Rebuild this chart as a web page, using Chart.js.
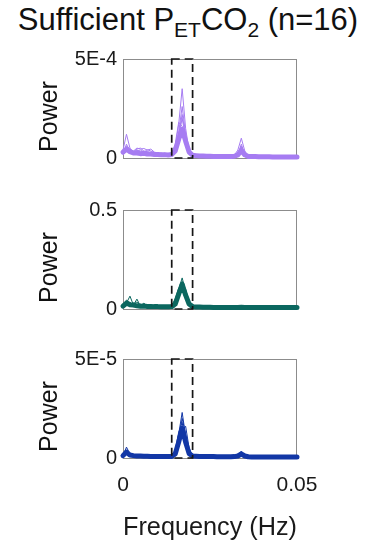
<!DOCTYPE html>
<html>
<head>
<meta charset="utf-8">
<script src="https://cdn.jsdelivr.net/npm/chart.js@4.4.1/dist/chart.umd.min.js"></script>
<style>
  html, body { margin: 0; padding: 0; background: #fff; }
  body { width: 365px; height: 546px; position: relative; overflow: hidden;
         font-family: "Liberation Sans", Arial, sans-serif; }
  #title { position: absolute; left: 0; top: 2px; width: 376px; text-align: center;
           font-size: 31px; color: #111; white-space: nowrap; }
  #title sub { font-size: 21px; vertical-align: -7px; line-height: 0; }
  canvas { position: absolute; left: 0; }
</style>
</head>
<body>
<div id="title">Sufficient P<sub>ET</sub>CO<sub>2</sub> (n=16)</div>
<canvas id="c1" width="365" height="120" style="top:50px"></canvas>
<canvas id="c2" width="365" height="120" style="top:201px"></canvas>
<canvas id="c3" width="365" height="196" style="top:350px"></canvas>
<script>
// Frequency grid (Hz)
const freq = [
  0.000,0.001,0.002,0.003,0.004,0.005,0.006,0.007,0.008,0.009,
  0.010,0.011,0.012,0.013,0.014,0.015,0.016,0.017,0.018,0.019,
  0.020,0.021,0.022,0.023,0.024,0.025,0.026,0.027,0.028,0.029,
  0.030,0.031,0.032,0.033,0.034,0.035,0.036,0.037,0.038,0.039,
  0.040,0.041,0.042,0.043,0.044,0.045,0.046,0.047,0.048,0.049,
  0.050];

// Frequency band of interest (dashed box)
const band = [0.014, 0.020];

const xTicks = [0, 0.05];
const xTickLabels = ['0', '0.05'];

// Panel 1 spectra, in units of 1E-4
const p1Unit = 1e-4;
const p1Max = 5;
const p1TickLabels = ['0', '5E-4'];
const p1Mean = [
  0.30,0.45,0.32,0.25,0.25,0.22,0.24,0.20,0.20,0.18,
  0.18,0.16,0.17,0.15,0.18,0.35,0.95,1.45,0.85,0.30,
  0.14,0.12,0.10,0.10,0.09,0.09,0.08,0.08,0.08,0.08,
  0.08,0.08,0.09,0.16,0.38,0.16,0.08,0.07,0.07,0.06,
  0.06,0.06,0.06,0.05,0.05,0.05,0.05,0.05,0.05,0.05,
  0.05];
const p1S1 = [
  0.20,0.70,0.35,0.25,0.40,0.30,0.25,0.35,0.20,0.25,
  0.15,0.20,0.22,0.12,0.20,0.50,1.70,3.50,1.50,0.35,
  0.12,0.10,0.12,0.08,0.10,0.06,0.08,0.10,0.06,0.07,
  0.08,0.10,0.12,0.25,0.60,0.22,0.10,0.06,0.05,0.06,
  0.05,0.04,0.05,0.04,0.05,0.04,0.04,0.05,0.04,0.04,
  0.04];
const p1S2 = [
  0.40,1.20,0.50,0.30,0.45,0.50,0.35,0.30,0.25,0.20,
  0.22,0.18,0.15,0.20,0.15,0.40,1.30,2.60,1.20,0.30,
  0.10,0.12,0.08,0.10,0.08,0.07,0.10,0.06,0.08,0.05,
  0.06,0.08,0.10,0.20,0.45,0.18,0.07,0.06,0.06,0.05,
  0.05,0.05,0.04,0.05,0.04,0.04,0.05,0.04,0.04,0.04,
  0.04];
const p1S3 = [
  0.25,0.55,0.30,0.35,0.50,0.45,0.48,0.40,0.45,0.30,
  0.25,0.20,0.25,0.18,0.22,0.40,1.10,2.00,1.00,0.25,
  0.12,0.10,0.10,0.09,0.08,0.10,0.07,0.08,0.07,0.08,
  0.09,0.10,0.15,0.40,1.00,0.35,0.12,0.08,0.06,0.06,
  0.05,0.06,0.05,0.05,0.04,0.05,0.04,0.05,0.04,0.04,
  0.04];
const p1S4 = [
  0.15,0.40,0.25,0.20,0.25,0.20,0.30,0.22,0.25,0.20,
  0.15,0.18,0.12,0.15,0.25,0.70,1.80,1.60,0.60,0.20,
  0.10,0.08,0.10,0.07,0.08,0.06,0.07,0.06,0.07,0.06,
  0.07,0.06,0.08,0.18,0.70,0.20,0.08,0.06,0.05,0.05,
  0.05,0.04,0.04,0.04,0.04,0.04,0.04,0.04,0.04,0.04,
  0.04];
const p1S5 = [
  0.35,0.60,0.45,0.30,0.35,0.40,0.30,0.42,0.35,0.28,
  0.20,0.25,0.20,0.15,0.20,0.30,0.80,1.20,1.00,0.40,
  0.15,0.12,0.10,0.12,0.10,0.08,0.09,0.08,0.06,0.07,
  0.06,0.07,0.10,0.14,0.30,0.15,0.10,0.07,0.06,0.06,
  0.06,0.05,0.05,0.05,0.05,0.05,0.05,0.05,0.05,0.05,
  0.05];
const p1S6 = [
  0.25,0.50,0.30,0.30,0.30,0.25,0.28,0.25,0.22,0.18,
  0.20,0.15,0.18,0.16,0.18,0.45,1.20,2.20,1.10,0.30,
  0.12,0.10,0.09,0.10,0.08,0.08,0.07,0.08,0.06,0.07,
  0.07,0.08,0.09,0.20,0.55,0.20,0.08,0.06,0.05,0.05,
  0.05,0.05,0.04,0.04,0.04,0.04,0.04,0.04,0.04,0.04,
  0.04];

// Panel 2 spectra
const p2Unit = 1;
const p2Max = 0.5;
const p2TickLabels = ['0', '0.5'];
const p2Mean = [
  0.015,0.030,0.022,0.020,0.016,0.014,0.015,0.013,0.013,0.012,
  0.012,0.011,0.011,0.011,0.012,0.025,0.075,0.125,0.070,0.025,
  0.012,0.010,0.010,0.009,0.009,0.009,0.008,0.008,0.008,0.008,
  0.008,0.008,0.008,0.008,0.009,0.008,0.008,0.008,0.007,0.007,
  0.007,0.007,0.007,0.007,0.007,0.007,0.007,0.007,0.007,0.007,
  0.007];
const p2S1 = [
  0.010,0.030,0.065,0.020,0.050,0.015,0.030,0.012,0.014,0.020,
  0.010,0.012,0.010,0.012,0.015,0.040,0.100,0.157,0.090,0.030,
  0.012,0.010,0.010,0.009,0.008,0.009,0.008,0.008,0.008,0.007,
  0.008,0.008,0.007,0.008,0.010,0.008,0.007,0.007,0.007,0.007,
  0.006,0.006,0.006,0.006,0.006,0.006,0.006,0.006,0.006,0.006,
  0.006];
const p2S2 = [
  0.020,0.045,0.030,0.025,0.035,0.018,0.020,0.015,0.016,0.013,
  0.012,0.013,0.011,0.012,0.014,0.035,0.090,0.140,0.080,0.025,
  0.011,0.010,0.009,0.009,0.009,0.008,0.008,0.008,0.008,0.008,
  0.007,0.008,0.008,0.007,0.008,0.007,0.007,0.007,0.007,0.006,
  0.006,0.006,0.006,0.006,0.006,0.006,0.006,0.006,0.006,0.006,
  0.006];
const p2S3 = [
  0.015,0.025,0.020,0.030,0.020,0.025,0.015,0.018,0.012,0.014,
  0.011,0.010,0.012,0.011,0.018,0.050,0.105,0.120,0.060,0.020,
  0.011,0.010,0.009,0.009,0.008,0.008,0.008,0.008,0.008,0.007,
  0.007,0.007,0.007,0.007,0.008,0.007,0.007,0.007,0.006,0.006,
  0.006,0.006,0.006,0.006,0.006,0.006,0.006,0.006,0.006,0.006,
  0.006];
const p2S4 = [
  0.012,0.020,0.018,0.015,0.014,0.013,0.014,0.012,0.012,0.011,
  0.011,0.010,0.010,0.010,0.012,0.020,0.060,0.095,0.100,0.035,
  0.013,0.010,0.009,0.009,0.008,0.008,0.008,0.008,0.007,0.007,
  0.007,0.007,0.007,0.007,0.008,0.007,0.007,0.006,0.006,0.006,
  0.006,0.006,0.006,0.006,0.006,0.006,0.006,0.006,0.006,0.006,
  0.006];

// Panel 3 spectra, in units of 1E-5
const p3Unit = 1e-5;
const p3Max = 5;
const p3TickLabels = ['0', '5E-5'];
const p3Mean = [
  0.12,0.30,0.15,0.12,0.10,0.10,0.09,0.09,0.08,0.08,
  0.08,0.08,0.07,0.07,0.08,0.20,0.80,1.50,0.80,0.22,
  0.10,0.09,0.08,0.08,0.07,0.07,0.07,0.06,0.06,0.06,
  0.06,0.06,0.07,0.10,0.20,0.10,0.06,0.05,0.05,0.05,
  0.05,0.05,0.05,0.05,0.05,0.05,0.05,0.05,0.05,0.05,
  0.05];
const p3S1 = [
  0.10,0.55,0.20,0.10,0.12,0.10,0.08,0.10,0.07,0.08,
  0.07,0.09,0.06,0.07,0.10,0.30,1.20,2.30,1.10,0.30,
  0.12,0.10,0.08,0.09,0.07,0.08,0.06,0.07,0.06,0.06,
  0.05,0.06,0.08,0.15,0.35,0.12,0.06,0.05,0.05,0.05,
  0.04,0.04,0.04,0.04,0.04,0.04,0.04,0.04,0.04,0.04,
  0.04];
const p3S2 = [
  0.15,0.40,0.18,0.12,0.10,0.09,0.10,0.08,0.09,0.07,
  0.08,0.07,0.07,0.06,0.08,0.25,1.00,2.00,1.20,0.25,
  0.10,0.09,0.08,0.07,0.08,0.06,0.07,0.06,0.06,0.05,
  0.06,0.05,0.07,0.12,0.28,0.10,0.06,0.05,0.05,0.04,
  0.04,0.04,0.04,0.04,0.04,0.04,0.04,0.04,0.04,0.04,
  0.04];
const p3S3 = [
  0.10,0.35,0.12,0.10,0.08,0.09,0.08,0.07,0.08,0.06,
  0.07,0.06,0.06,0.06,0.10,0.40,1.30,1.80,0.70,0.20,
  0.09,0.08,0.07,0.07,0.06,0.06,0.06,0.05,0.06,0.05,
  0.05,0.05,0.06,0.10,0.22,0.09,0.05,0.05,0.04,0.04,
  0.04,0.04,0.04,0.04,0.04,0.04,0.04,0.04,0.04,0.04,
  0.04];
const p3S4 = [
  0.12,0.25,0.14,0.11,0.10,0.08,0.09,0.08,0.07,0.08,
  0.06,0.07,0.06,0.07,0.08,0.20,0.70,1.20,0.90,0.30,
  0.10,0.08,0.08,0.07,0.07,0.06,0.06,0.06,0.05,0.05,
  0.05,0.06,0.07,0.12,0.30,0.12,0.06,0.05,0.05,0.05,
  0.04,0.04,0.04,0.04,0.04,0.04,0.04,0.04,0.04,0.04,
  0.04];
const p3S5 = [
  0.14,0.30,0.16,0.12,0.09,0.10,0.08,0.09,0.07,0.07,
  0.07,0.06,0.07,0.06,0.09,0.15,0.60,1.40,1.60,0.50,
  0.12,0.09,0.08,0.07,0.07,0.07,0.06,0.06,0.06,0.05,
  0.05,0.05,0.06,0.10,0.25,0.10,0.06,0.05,0.05,0.04,
  0.04,0.04,0.04,0.04,0.04,0.04,0.04,0.04,0.04,0.04,
  0.04];

const purple = '#a67cf2';
const teal = '#0b675f';
const blue = '#1237a6';

Chart.defaults.font.family = '"Liberation Sans", Arial, sans-serif';
Chart.defaults.color = '#1a1a1a';

// Axes box, dashed band box and the rotated y label
const panelDecor = {
  id: 'panelDecor',
  beforeDatasetsDraw(chart) {
    const { ctx, chartArea: a } = chart;
    ctx.save();
    ctx.strokeStyle = '#8c8c8c';
    ctx.lineWidth = 1;
    ctx.strokeRect(Math.round(a.left) + 0.5, Math.round(a.top) + 0.5,
                   Math.round(a.width) - 1, Math.round(a.height));
    ctx.restore();
  },
  afterDatasetsDraw(chart, args, opts) {
    const { ctx, scales: { x, y } } = chart;
    const x1 = x.getPixelForValue(band[0]);
    const x2 = x.getPixelForValue(band[1]);
    const yt = y.getPixelForValue(opts.yMax);
    const yb = y.getPixelForValue(0);
    ctx.save();
    ctx.setLineDash([8, 5]);
    ctx.strokeStyle = '#151515';
    ctx.lineWidth = 1.7;
    ctx.strokeRect(x1, yt, x2 - x1, yb - yt);
    ctx.restore();
  },
  afterDraw(chart, args, opts) {
    const { ctx, chartArea: a } = chart;
    ctx.save();
    ctx.translate(50, (a.top + a.bottom) / 2 + opts.labelShift);
    ctx.rotate(-Math.PI / 2);
    ctx.font = '25px "Liberation Sans", Arial, sans-serif';
    ctx.fillStyle = '#111';
    ctx.textAlign = 'center';
    ctx.textBaseline = 'middle';
    ctx.fillText('Power', 0, 0);
    ctx.restore();
  }
};

function toPoints(values, unit) {
  return values.map((v, i) => ({ x: freq[i], y: v * unit }));
}

function makePanel(id, mean, subjects, unit, yMax, yTickLabels, color, showX) {
  const thin = subjects.map(s => ({
    data: toPoints(s, unit),
    borderColor: color,
    borderWidth: 1,
    pointRadius: 0,
    tension: 0,
    clip: 6
  }));
  const thick = {
    data: toPoints(mean, unit),
    borderColor: color,
    borderWidth: 5,
    pointRadius: 0,
    tension: 0,
    borderJoinStyle: 'round',
    borderCapStyle: 'round',
    clip: 6
  };
  return new Chart(document.getElementById(id), {
    type: 'line',
    data: { datasets: [thick, ...thin] },
    options: {
      responsive: false,
      animation: false,
      devicePixelRatio: 1,
      layout: { padding: { left: 0, right: 68, top: 9, bottom: showX ? 0 : 12 } },
      plugins: {
        legend: { display: false },
        tooltip: { enabled: false },
        panelDecor: { yMax: yMax * unit, labelShift: 8 }
      },
      scales: {
        x: {
          type: 'linear',
          min: 0,
          max: 0.05,
          display: showX,
          afterBuildTicks: ax => { ax.ticks = xTicks.map(v => ({ value: v })); },
          afterFit: s => {
            s.height = showX ? 88 : 0;
            s.paddingLeft = 0;
            s.paddingRight = 0;
          },
          ticks: {
            callback: (v, i) => xTickLabels[i],
            font: { size: 21 },
            padding: 15,
            maxRotation: 0,
            autoSkip: false
          },
          grid: { display: false, drawTicks: false },
          border: { display: false },
          title: {
            display: true,
            text: 'Frequency (Hz)',
            font: { size: 26 },
            padding: { top: 0, bottom: 3 }
          }
        },
        y: {
          type: 'linear',
          min: 0,
          max: yMax * unit,
          afterBuildTicks: ax => { ax.ticks = [{ value: 0 }, { value: yMax * unit }]; },
          afterFit: s => {
            s.width = 123;
            s.paddingTop = 0;
            s.paddingBottom = 0;
          },
          ticks: {
            callback: (v, i) => yTickLabels[i],
            font: { size: 20 },
            padding: 6
          },
          grid: { display: false, drawTicks: false },
          border: { display: false }
        }
      }
    },
    plugins: [panelDecor]
  });
}

makePanel('c1', p1Mean, [p1S1, p1S2, p1S3, p1S4, p1S5, p1S6], p1Unit, p1Max, p1TickLabels, purple, false);
makePanel('c2', p2Mean, [p2S1, p2S2, p2S3, p2S4], p2Unit, p2Max, p2TickLabels, teal, false);
makePanel('c3', p3Mean, [p3S1, p3S2, p3S3, p3S4, p3S5], p3Unit, p3Max, p3TickLabels, blue, true);
</script>
</body>
</html>
